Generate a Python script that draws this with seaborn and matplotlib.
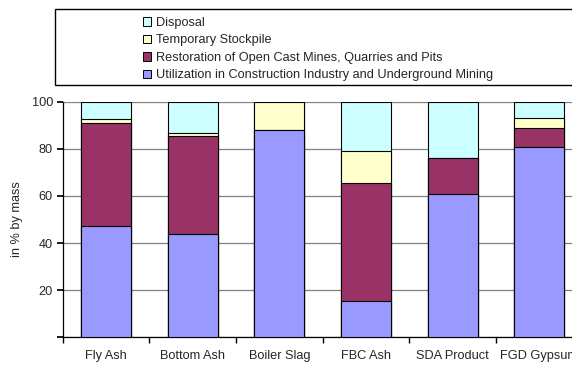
import matplotlib
matplotlib.use("Agg")
import matplotlib.pyplot as plt
import seaborn as sns
import pandas as pd
import numpy as np
from matplotlib.patches import Patch, Rectangle

categories = ["Fly Ash", "Bottom Ash", "Boiler Slag", "FBC Ash", "SDA Product", "FGD Gypsum"]
utilization = [47.2, 43.8, 87.9, 15.2, 60.7, 80.8]
restoration = [43.6, 41.5, 0.0, 50.2, 15.4, 7.9]
stockpile = [1.7, 1.3, 12.1, 13.7, 0.0, 4.5]
disposal = [7.5, 13.4, 0.0, 20.9, 23.9, 6.8]

series_names = ["Disposal", "Temporary Stockpile",
                "Restoration of Open Cast Mines, Quarries and Pits",
                "Utilization in Construction Industry and Underground Mining"]
colors = ["#CCFFFF", "#FFFFCC", "#993366", "#9999FF"]

sns.set_theme(style="white")
plt.rcParams['font.family'] = ['Liberation Sans', 'DejaVu Sans']
FS = 9.2
plt.rcParams['font.size'] = FS

df = pd.DataFrame({"cat": categories, "util": utilization, "rest": restoration,
                   "stock": stockpile, "disp": disposal})
df["c_util"] = df["util"]
df["c_rest"] = df["c_util"] + df["rest"]
df["c_stock"] = df["c_rest"] + df["stock"]
df["c_disp"] = df["c_stock"] + df["disp"]

fig = plt.figure(figsize=(5.72, 3.65), dpi=100)
ax = fig.add_axes([62.7/572, 1-337.3/365, 520/572, 235.6/365])

for col, c in zip(["c_disp", "c_stock", "c_rest", "c_util"], colors):
    sns.barplot(data=df, x="cat", y=col, color=c, saturation=1, width=0.58,
                edgecolor="black", linewidth=0.8, ax=ax, zorder=3)

ax.set_ylim(0, 100)
ax.set_xlim(-0.5, 5.5)
ax.set_yticks([0, 20, 40, 60, 80, 100])
ax.set_yticklabels(["", "20", "40", "60", "80", "100"], fontsize=FS)
ax.yaxis.grid(True, color="#808080", linewidth=0.9, zorder=0)
ax.set_axisbelow(True)
ax.set_xticks(np.arange(6))
ax.set_xticklabels(categories, fontsize=FS)
ax.tick_params(axis="x", length=0, pad=9)
ax.set_xticks(np.arange(-0.5, 6, 1), minor=True)
ax.tick_params(axis="x", which="minor", length=4, direction="out", color="black", bottom=True)
ax.tick_params(axis="y", length=4, direction="out", color="black", left=True, pad=3)
ax.set_xlabel("")
ax.set_ylabel("in % by mass", fontsize=FS, labelpad=6)
for s in ["top", "right"]:
    ax.spines[s].set_visible(False)
for s in ["left", "bottom"]:
    ax.spines[s].set_color("black")
    ax.spines[s].set_linewidth(0.9)

# legend box
fig.patches.append(Rectangle((55/572, 1-85/365), 560/572, 76/365, transform=fig.transFigure,
                             facecolor="white", edgecolor="black", linewidth=1.0))
handles = [Patch(facecolor=c, edgecolor="black", linewidth=0.7) for c in colors]
fig.legend(handles, series_names, loc="upper left", bbox_to_anchor=(134/572, 1-8/365),
           frameon=False, fontsize=FS, handlelength=0.65, handleheight=0.65,
           handletextpad=0.35, labelspacing=0.43, borderpad=0.2)

fig.savefig("out.png", dpi=100)
